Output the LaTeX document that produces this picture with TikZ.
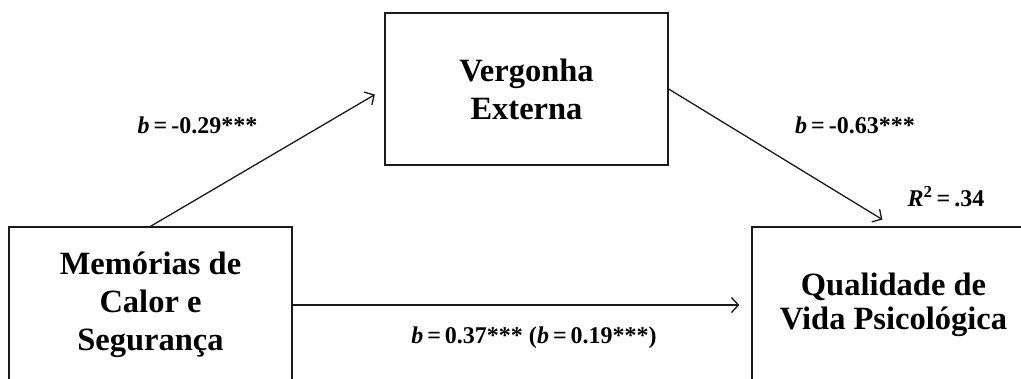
\documentclass[tikz,border=0pt]{standalone}
\usepackage{fontspec}
\setmainfont{Liberation Serif}
\usetikzlibrary{arrows.meta}
\definecolor{mLine}{HTML}{1A1A1A}
\newcommand{\mnode}[4]{%
 \node[draw=mLine, line width=1.3pt, minimum width=283pt, minimum height=#4pt, inner sep=0pt, align=center, font=\fontsize{32.5}{38}\selectfont\bfseries] (#2) at (#1) {#3};}
\newcommand{\coef}[3]{%
 \node[font=\fontsize{24}{28}\selectfont\bfseries] (#2) at (#1) {#3};}

\begin{document}
\begin{tikzpicture}[x=1pt, y=-1pt]
\useasboundingbox (0,0) rectangle (1021,378);
\clip (0,0) rectangle (1021,378);
\mnode{526.5,89}{verg}{Vergonha\\Externa}{152}
\mnode{150.5,305}{mem}{Memórias de\\Calor e\\Segurança}{156}
\mnode{893.5,305}{qual}{Qualidade de\\[-4pt]Vida Psicológica}{156}
\draw[-{Straight Barb[length=7pt,width=15pt]}, mLine, line width=1.3pt, shorten >=11pt] (mem.north) -- (verg.west);
\draw[-{Straight Barb[length=7pt,width=15pt]}, mLine, line width=1.3pt, shorten >=13pt] (verg.east) -- (qual.north);
\draw[-{Straight Barb[length=7pt,width=15pt]}, mLine, line width=1.3pt, shorten >=12pt] (mem.east) -- (qual.west);
\coef{197.5,125}{ma}{\textit{b}\,=\,-0.29***}
\coef{855,125}{vq}{\textit{b}\,=\,-0.63***}
\coef{946,197}{rsq}{\textit{R}\textsuperscript{2}\,=\,.34}
\coef{534,338}{mq}{\textit{b}\,=\,0.37*** (\textit{b}\,=\,0.19***)}
\end{tikzpicture}
\end{document}
